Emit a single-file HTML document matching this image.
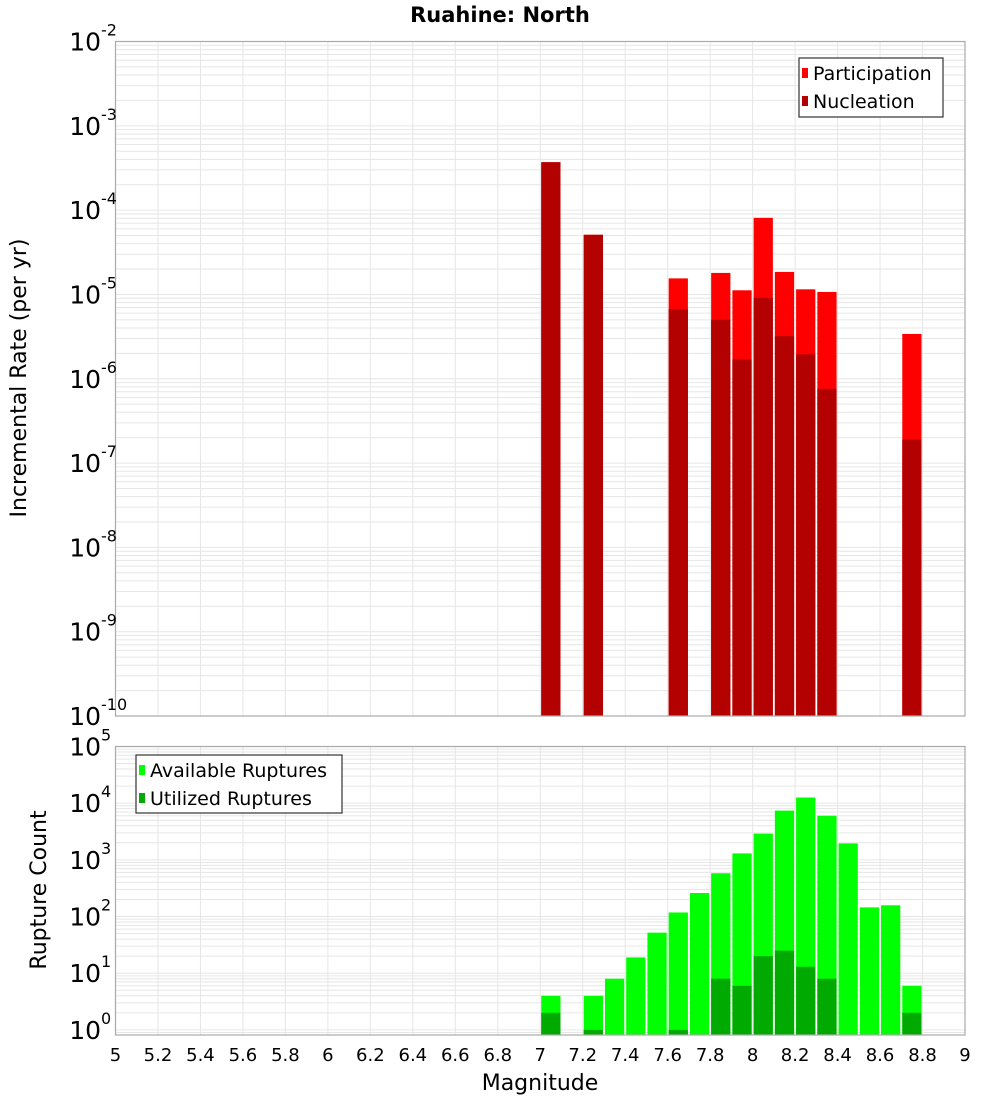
<!DOCTYPE html>
<html><head><meta charset="utf-8">
<style>
html,body{margin:0;padding:0;background:#fff;}
svg{display:block;font-family:"DejaVu Sans","Liberation Sans",sans-serif;}
</style></head>
<body>
<svg id="chart" width="1000" height="1100" viewBox="0 0 1000 1100" xmlns="http://www.w3.org/2000/svg">
<text x="500" y="22" text-anchor="middle" font-size="21" font-weight="bold">Ruahine: North</text>
<text transform="translate(26,378) rotate(-90)" text-anchor="middle" font-size="22">Incremental Rate (per yr)</text>
<text transform="translate(46,890) rotate(-90)" text-anchor="middle" font-size="22">Rupture Count</text>
<text x="540" y="1090" text-anchor="middle" font-size="22">Magnitude</text>
</svg>
<script>
const magBins = [7.05,7.25,7.65,7.85,7.95,8.05,8.15,8.25,8.35,8.75];
const participation = [3.7e-4,5.1e-5,1.55e-5,1.8e-5,1.12e-5,8.1e-5,1.85e-5,1.15e-5,1.07e-5,3.4e-6];
const nucleation = [3.7e-4,5.1e-5,6.7e-6,5.0e-6,1.7e-6,9.1e-6,3.2e-6,1.95e-6,7.6e-7,1.9e-7];
const countBins = [7.05,7.25,7.35,7.45,7.55,7.65,7.75,7.85,7.95,8.05,8.15,8.25,8.35,8.45,8.55,8.65,8.75];
const available = [4,4,8,19,52,118,260,580,1300,2900,7400,12600,6000,1950,145,158,6];
const utilized = [2,1,0,0,0,1,0,8,6,20,25,13,8,0,0,0,2];
const xTicks = [5,5.2,5.4,5.6,5.8,6,6.2,6.4,6.6,6.8,7,7.2,7.4,7.6,7.8,8,8.2,8.4,8.6,8.8,9];
const topExps = [-2,-3,-4,-5,-6,-7,-8,-9,-10];
const botExps = [5,4,3,2,1,0];

const svg = document.getElementById('chart');
const NS = 'http://www.w3.org/2000/svg';
const L = 115.5, R = 965;
const T1 = 41.5, B1 = 716, topMax = -2, topMin = -10;
const T2 = 746.5, B2 = 1035, botMax = 5, botMin = -0.09;
function x(m){ return L + (m-5)/(9-5)*(R-L); }
function y1(v){ return T1 + (topMax-Math.log10(v))/(topMax-topMin)*(B1-T1); }
const dec2 = (B2-T2)/(botMax-botMin);
function y2(v){ return T2 + (botMax-Math.log10(v))*dec2; }
function mk(tag, attrs){ const e=document.createElementNS(NS,tag); for(const k in attrs) e.setAttribute(k,attrs[k]); svg.appendChild(e); return e; }

function panel(T,B,minE,maxE,yf,name){
  const bg = mk('rect',{x:L,y:T,width:R-L,height:B-T,fill:'#fff'});
  
  
  for(let e=Math.floor(minE); e<maxE; e++){
    for(let k=1;k<10;k++){
      const v=k*Math.pow(10,e); const yy=yf(v);
      if(yy<T||yy>B) continue;
      const g=mk('line',{x1:L,x2:R,y1:yy,y2:yy,stroke:'#e6e6e6','stroke-width':1});
      
      
    }
  }
  xTicks.forEach(t=>{
    const g=mk('line',{x1:x(t),x2:x(t),y1:T,y2:B,stroke:'#e6e6e6','stroke-width':1});
    
    
  });
}
panel(T1,B1,topMin,topMax,y1,'top');
panel(T2,B2,-1,botMax,y2,'bottom');

const bw = (x(0.1)-x(0))-2;
magBins.forEach((m,i)=>{
  const bx = x(m)-bw/2;
  const p = mk('rect',{x:bx,y:y1(participation[i]),width:bw,height:B1-y1(participation[i]),fill:'#ff0000'});
  
  
  const n = mk('rect',{x:bx,y:y1(nucleation[i]),width:bw,height:B1-y1(nucleation[i]),fill:'#b30000'});
  
  
});
countBins.forEach((m,i)=>{
  const bx = x(m)-bw/2;
  if(available[i]>0){
    const a = mk('rect',{x:bx,y:y2(available[i]),width:bw,height:B2-y2(available[i]),fill:'#00ff00'});
    
    
  }
  if(utilized[i]>0){
    const u = mk('rect',{x:bx,y:y2(utilized[i]),width:bw,height:B2-y2(utilized[i]),fill:'#00aa00'});
    
    
  }
});

[[T1,B1,'top'],[T2,B2,'bottom']].forEach(([T,B,name])=>{
  const f = mk('rect',{x:L,y:T,width:R-L,height:B-T,fill:'none',stroke:'#aaaaaa','stroke-width':1.2});
  
  
});

function yLabel(exp, yy, name){
  const t = mk('text',{x:101,y:yy+9,'text-anchor':'end','font-size':25});
  t.textContent='10';
  
  
  const s = mk('text',{x:101,y:yy-6,'text-anchor':'start','font-size':16});
  s.textContent=String(exp);
  
  
}
topExps.forEach(e=>yLabel(e, y1(Math.pow(10,e)), 'top-y-tick-label'));
botExps.forEach(e=>yLabel(e, y2(Math.pow(10,e)), 'bottom-y-tick-label'));

xTicks.forEach(t=>{
  const tx = mk('text',{x:x(t),y:1061,'text-anchor':'middle','font-size':18});
  tx.textContent=String(t);
  
  
});

function legend(bx,by,w,h,items,name){
  const box = mk('rect',{x:bx,y:by,width:w,height:h,fill:'#fff',stroke:'#333','stroke-width':1.2});
  
  
  items.forEach((it,i)=>{
    const cy = by+15+i*28;
    const sw = mk('rect',{x:bx+3,y:cy-5,width:6,height:10,fill:it[1]});
    
    
    const lt = mk('text',{x:bx+14,y:cy+7,'font-size':19});
    lt.textContent=it[0];
    
    
  });
}
legend(799,58,144,59,[['Participation','#ff0000'],['Nucleation','#b30000']],'top-legend');
legend(136,755,206,58,[['Available Ruptures','#00ff00'],['Utilized Ruptures','#00aa00']],'bottom-legend');
</script>
</body></html>
